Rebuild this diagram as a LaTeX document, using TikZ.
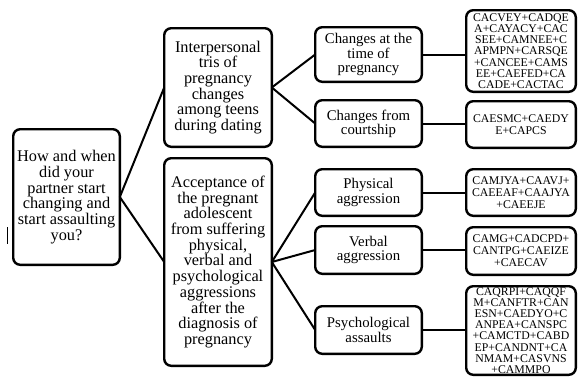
\documentclass[tikz,border=0pt]{standalone}
\usepackage{fontspec}
\setmainfont{Liberation Serif}
\begin{document}
\begin{tikzpicture}[x=1pt,y=-1pt,
  box/.style={draw, line width=2.4pt, rounded corners=7pt, align=center, inner sep=0pt, outer sep=0pt},
  big/.style={box, font=\fontsize{16.3}{15.7}\selectfont, minimum width=107.6pt},
  midbox/.style={box, font=\fontsize{14.8}{14.2}\selectfont, minimum width=106.6pt},
  codebox/.style={box, font=\fontsize{11.8}{11.9}\selectfont, minimum width=109.6pt},
  tightcode/.style={codebox, font=\fontsize{11.8}{11.2}\selectfont},
  link/.style={line width=2pt}]
\useasboundingbox (0,0) rectangle (579,378);

\node[big, minimum width=106.6pt, minimum height=135.6pt] (root) at (66.5,197)
  {How and when\\did your\\partner start\\changing and\\start assaulting\\you?};

\node[big, minimum height=118.6pt] (m1) at (218,87.5)
  {Interpersonal\\tris of\\pregnancy\\changes\\among teens\\during dating};
\node[big, minimum height=207.6pt] (m2) at (218,262)
  {Acceptance of\\the pregnant\\adolescent\\from suffering\\physical,\\verbal and\\psychological\\aggressions\\after the\\diagnosis of\\pregnancy};

\node[midbox, minimum height=54.6pt] (r1) at (368.5,54.5) {Changes at the\\time of\\pregnancy};
\node[midbox, minimum height=46.6pt] (r2) at (368.5,123.5) {Changes from\\courtship};
\node[midbox, minimum height=46.6pt] (r3) at (368.5,192.5) {Physical\\aggression};
\node[midbox, minimum height=47.6pt] (r4) at (368.5,250) {Verbal\\aggression};
\node[midbox, minimum height=47.6pt] (r5) at (368.5,330) {Psychological\\assaults};

\node[tightcode, minimum height=81.6pt] (f1) at (521,51)
  {CACVEY+CADQE\\A+CAYACY+CAC\\SEE+CAMNEE+C\\APMPN+CARSQE\\+CANCEE+CAMS\\EE+CAEFED+CA\\CADE+CACTAC};
\node[codebox, minimum height=46.6pt] (f2) at (521,124.5) {CAESMC+CAEDY\\E+CAPCS};
\node[codebox, minimum height=46.6pt] (f3) at (521,192.5) {CAMJYA+CAAVJ+\\CAEEAF+CAAJYA\\+CAEEJE};
\node[codebox, minimum height=47.6pt] (f4) at (521,251) {CAMG+CADCPD+\\CANTPG+CAEIZE\\+CAECAV};
\node[tightcode, minimum height=88.6pt] (f5) at (521,330.5)
  {CAQRPI+CAQQF\\M+CANFTR+CAN\\ESN+CAEDYO+C\\ANPEA+CANSPC\\+CAMCTD+CABD\\EP+CANDNT+CA\\NMAM+CASVNS\\+CAMMPO};

\draw[link] (root.east) -- (m1.west);
\draw[link] (root.east) -- (m2.west);
\draw[link] (m1.east) -- (r1.west);
\draw[link] (m1.east) -- (r2.west);
\draw[link] (m2.east) -- (r3.west);
\draw[link] (m2.east) -- (r4.west);
\draw[link] (m2.east) -- (r5.west);
\foreach \a/\b in {r1/f1,r2/f2,r3/f3,r4/f4,r5/f5}
  \draw[link] (\a.east) -- (\a.east -| \b.west);

\coordinate (bar1) at (7.5,227);
\coordinate (bar2) at (7.5,244);
\draw[line width=1.5pt] (bar1) -- (bar2);
\end{tikzpicture}
\end{document}
